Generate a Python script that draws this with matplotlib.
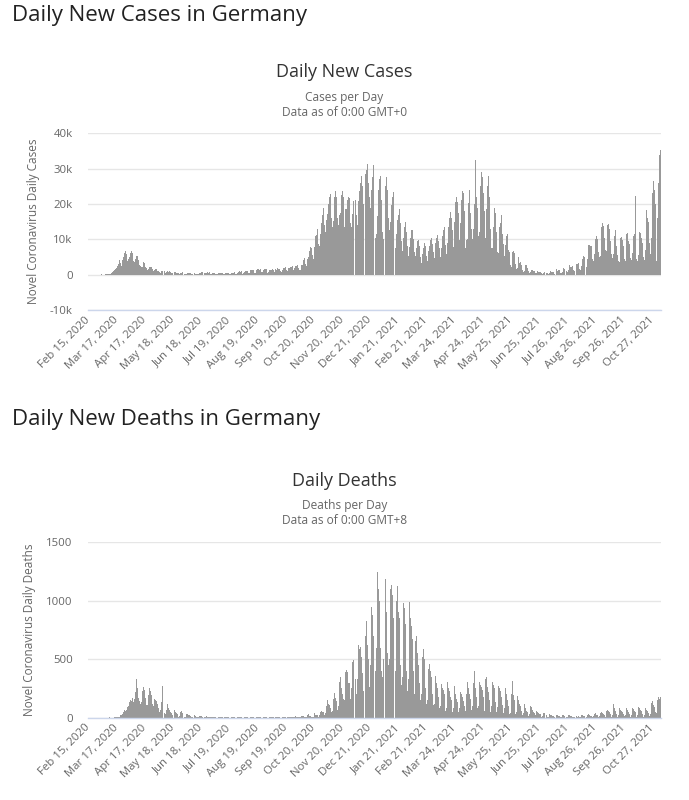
import matplotlib
matplotlib.use("Agg")
import matplotlib.pyplot as plt
from matplotlib.ticker import FixedLocator, FuncFormatter
import pandas as pd

plt.rcParams['font.family'] = ['Open Sans', 'DejaVu Sans']

# ---------------- data (daily, starting Sat Feb 15, 2020; one row = Sat..Fri) ----------------
start_date = "2020-02-15"

daily_cases = [
    0, 0, 0, 0, 0, 0, 0,
    0, 0, 0, 2, 10, 20, 30,
    50, 40, 60, 30, 30, 80, 190,
    150, 240, 130, 280, 480, 810, 870,
    910, 1210, 1480, 1840, 2400, 2960, 4200,
    3400, 2500, 4200, 4800, 4900, 6200, 6800,
    5900, 4000, 4400, 5000, 6100, 6600, 6200,
    6000, 3800, 3600, 4300, 5400, 5300, 4100,
    2700, 2500, 2100, 2100, 3000, 3600, 3400,
    2100, 1800, 1200, 1600, 2300, 2300, 2100,
    1500, 1000, 1000, 1300, 1600, 1500, 1000,
    900, 700, 600, 900, 1100, 1200, 1200,
    900, 600, 700, 900, 800, 900, 700,
    600, 500, 350, 600, 800, 700, 600,
    450, 400, 300, 350, 400, 700, 500,
    400, 300, 200, 300, 350, 500, 400,
    400, 300, 200, 300, 400, 500, 300,
    200, 250, 200, 350, 600, 750, 700,
    600, 550, 500, 500, 600, 630, 480,
    690, 300, 200, 400, 500, 450, 400,
    300, 250, 200, 400, 400, 450, 400,
    350, 250, 150, 300, 400, 550, 580,
    500, 250, 200, 450, 550, 570, 800,
    780, 300, 300, 600, 680, 900, 870,
    950, 250, 500, 880, 740, 1040, 1100,
    1100, 400, 440, 1220, 1230, 1450, 1440,
    1200, 600, 580, 1390, 1510, 1700, 1430,
    1600, 800, 800, 1280, 1500, 1570, 1500,
    1500, 600, 700, 1250, 1300, 1300, 1500,
    1400, 800, 800, 1500, 1200, 1800, 1500,
    1600, 1100, 700, 1400, 1900, 2200, 1900,
    2300, 1300, 900, 1800, 1800, 2100, 2200,
    2500, 1400, 1200, 1800, 2500, 2500, 2700,
    2000, 1400, 1400, 2600, 2800, 4100, 4500,
    4700, 3100, 2400, 4300, 5100, 6600, 7800,
    7600, 5500, 4300, 6900, 7800, 11000, 11300,
    13000, 8800, 8200, 11400, 14700, 16800, 18800,
    18100, 14100, 12000, 15600, 17200, 19900, 22000,
    22800, 16000, 13400, 15300, 18400, 22000, 23600,
    22000, 16000, 14000, 17000, 17500, 22600, 23600,
    22000, 15700, 13600, 18600, 18600, 21000, 22000,
    21600, 14600, 13600, 17300, 20800, 22500, 23300,
    21000, 17000, 14000, 20800, 23700, 26000, 28000,
    25000, 20000, 16400, 25000, 28500, 29500, 31200,
    26000, 22000, 19000, 24000, 27500, 31000, 22000,
    14500, 10500, 11500, 16500, 24000, 27000, 28000,
    21000, 12000, 10000, 15000, 21000, 25000, 27700,
    24000, 16000, 12500, 15000, 19600, 22000, 23300,
    18000, 12000, 7500, 11500, 15500, 17000, 18500,
    14500, 9500, 6800, 10500, 13500, 14500, 15000,
    12000, 8200, 5300, 7700, 10500, 12500, 12700,
    10000, 6300, 4200, 5300, 7600, 9500, 9800,
    8200, 5100, 3400, 5800, 7500, 9100, 9600,
    8200, 5400, 4000, 6800, 8100, 9900, 10500,
    8800, 6500, 4700, 7200, 9000, 10500, 11200,
    9500, 7500, 5000, 7500, 11000, 12600, 13400,
    12200, 8500, 5800, 9100, 13400, 16000, 17600,
    16000, 12600, 7700, 14900, 16000, 20700, 22000,
    20500, 17500, 9900, 14700, 21000, 23600, 23000,
    18000, 9700, 7500, 9700, 10000, 20400, 24000,
    17500, 13000, 10000, 13000, 20000, 29500, 32400,
    22000, 19000, 11000, 12000, 25000, 29000, 27500,
    23000, 18000, 9500, 10500, 18500, 25000, 27900,
    22000, 13000, 7500, 7500, 13500, 19000, 21000,
    17500, 12000, 6400, 6100, 13500, 14500, 17000,
    11500, 8700, 5400, 4200, 8500, 11000, 11400,
    7100, 6500, 2800, 2300, 6300, 6700, 6200,
    5000, 3100, 1500, 1800, 4900, 3200, 3600,
    2600, 1300, 800, 1100, 2800, 2600, 2700,
    1900, 1000, 500, 650, 1400, 1300, 1100,
    900, 540, 350, 350, 1000, 750, 770,
    640, 400, 250, 330, 800, 650, 530,
    570, 350, 200, 400, 970, 650, 750,
    700, 300, 300, 650, 1550, 1000, 1400,
    1200, 500, 500, 750, 1900, 1700, 1600,
    1500, 1000, 800, 1200, 2700, 2200, 2100,
    2400, 1200, 900, 1800, 3300, 3000, 3100,
    3200, 1600, 1200, 2500, 4500, 5200, 5000,
    5600, 2500, 2300, 4400, 8400, 8500, 8000,
    8000, 4500, 4000, 5800, 10000, 12600, 11000,
    10000, 6400, 5000, 5300, 13500, 14500, 13700,
    10500, 7000, 5500, 6700, 14000, 14200, 12800,
    9400, 5800, 4800, 5800, 11000, 12600, 11300,
    8000, 5700, 3800, 3600, 10500, 10700, 9700,
    8200, 4400, 3800, 5700, 11500, 11800, 9600,
    8600, 4700, 4200, 6200, 11000, 11500, 22300,
    8000, 4500, 4000, 5500, 12100, 11800, 10500,
    9000, 5000, 4100, 7000, 17500, 18300, 16000,
    15000, 9000, 5900, 10500, 23000, 26400, 24000,
    20000, 10000, 3900, 16000, 26000, 33900, 35400,
]

daily_deaths = [
    0, 0, 0, 0, 0, 0, 0,
    0, 0, 0, 0, 0, 0, 0,
    0, 0, 0, 0, 0, 0, 0,
    0, 0, 2, 0, 0, 0, 3,
    1, 2, 4, 4, 5, 8, 10,
    20, 23, 30, 33, 49, 62, 55,
    70, 90, 100, 130, 150, 140, 170,
    170, 130, 160, 220, 330, 250, 170,
    140, 120, 130, 230, 300, 260, 240,
    170, 110, 110, 190, 250, 230, 190,
    120, 90, 100, 160, 150, 140, 120,
    80, 50, 70, 130, 271, 120, 110,
    40, 30, 70, 120, 80, 70, 50,
    40, 20, 20, 80, 70, 45, 40,
    30, 10, 15, 50, 60, 40, 25,
    20, 10, 10, 30, 35, 25, 20,
    15, 5, 10, 20, 25, 20, 15,
    10, 5, 5, 15, 15, 12, 10,
    8, 3, 3, 10, 12, 8, 6,
    6, 2, 2, 8, 10, 8, 5,
    4, 1, 1, 6, 8, 5, 4,
    3, 1, 1, 5, 7, 4, 3,
    3, 1, 1, 4, 6, 4, 3,
    3, 1, 1, 5, 6, 4, 3,
    2, 1, 1, 5, 6, 4, 3,
    2, 1, 1, 6, 7, 4, 3,
    2, 1, 1, 5, 6, 4, 3,
    2, 1, 1, 5, 6, 4, 3,
    3, 1, 1, 6, 7, 5, 3,
    3, 1, 1, 6, 8, 5, 3,
    4, 1, 1, 7, 9, 6, 4,
    4, 1, 2, 8, 10, 7, 5,
    5, 2, 3, 10, 12, 9, 6,
    6, 3, 4, 13, 16, 11, 8,
    8, 4, 6, 20, 28, 15, 12,
    10, 5, 10, 30, 40, 25, 20,
    25, 10, 20, 50, 60, 50, 45,
    40, 25, 40, 100, 150, 120, 110,
    80, 50, 60, 160, 225, 210, 170,
    140, 70, 100, 305, 351, 250, 200,
    160, 90, 150, 390, 408, 390, 300,
    300, 160, 250, 480, 494, 450, 390,
    330, 200, 330, 622, 590, 608, 520,
    380, 230, 400, 760, 700, 828, 620,
    500, 260, 450, 945, 880, 700, 350,
    300, 400, 600, 1245, 1100, 1000, 600,
    400, 350, 500, 1207, 1100, 1185, 900,
    550, 450, 500, 1100, 1136, 1050, 850,
    500, 330, 400, 1000, 1130, 900, 850,
    450, 280, 350, 985, 940, 850, 800,
    400, 230, 330, 993, 850, 780, 670,
    400, 200, 250, 660, 700, 550, 450,
    300, 150, 200, 520, 585, 500, 400,
    250, 120, 150, 420, 458, 400, 350,
    200, 110, 120, 415, 360, 300, 250,
    180, 80, 100, 289, 250, 240, 200,
    160, 60, 80, 309, 250, 230, 180,
    150, 50, 80, 274, 250, 200, 160,
    130, 50, 80, 223, 200, 180, 140,
    100, 50, 60, 200, 303, 250, 200,
    160, 70, 100, 300, 400, 300, 250,
    180, 80, 100, 309, 280, 260, 240,
    180, 60, 100, 330, 346, 260, 220,
    150, 50, 100, 309, 280, 250, 200,
    130, 50, 90, 274, 250, 230, 180,
    110, 40, 80, 266, 250, 200, 150,
    100, 30, 40, 200, 314, 190, 150,
    80, 30, 50, 189, 150, 120, 100,
    60, 20, 40, 117, 100, 80, 60,
    50, 15, 30, 103, 90, 70, 50,
    40, 10, 20, 57, 50, 40, 35,
    30, 5, 15, 43, 40, 30, 25,
    20, 5, 10, 30, 25, 20, 15,
    15, 3, 8, 28, 25, 20, 15,
    12, 3, 8, 25, 22, 18, 12,
    10, 3, 8, 20, 25, 15, 12,
    10, 3, 8, 18, 22, 15, 10,
    12, 3, 8, 20, 25, 18, 12,
    12, 4, 10, 25, 30, 20, 15,
    15, 5, 12, 35, 40, 30, 20,
    20, 5, 15, 43, 50, 40, 30,
    25, 8, 20, 60, 65, 55, 45,
    30, 10, 25, 117, 80, 60, 50,
    30, 10, 25, 80, 70, 60, 50,
    35, 12, 25, 86, 80, 65, 50,
    30, 10, 20, 80, 75, 60, 50,
    30, 10, 25, 89, 80, 70, 55,
    30, 10, 25, 86, 80, 70, 60,
    40, 15, 35, 126, 143, 110, 90,
    50, 20, 40, 150, 174, 160, 180,
]

dates = pd.date_range(start_date, periods=len(daily_cases), freq="D")

tick_labels = [
    "Feb 15, 2020", "Mar 17, 2020", "Apr 17, 2020", "May 18, 2020", "Jun 18, 2020",
    "Jul 19, 2020", "Aug 19, 2020", "Sep 19, 2020", "Oct 20, 2020", "Nov 20, 2020",
    "Dec 21, 2020", "Jan 21, 2021", "Feb 21, 2021", "Mar 24, 2021", "Apr 24, 2021",
    "May 25, 2021", "Jun 25, 2021", "Jul 26, 2021", "Aug 26, 2021", "Sep 26, 2021",
    "Oct 27, 2021",
]
tick_pos = [dates.get_loc(pd.Timestamp(t)) for t in tick_labels]

cases_yticks = [-10000, 0, 10000, 20000, 30000, 40000]
deaths_yticks = [0, 500, 1000, 1500]

# ---------------- styling ----------------
W, H = 689, 800
BAR = "#999999"
GRID = "#e6e6e6"
AXIS = "#ccd6eb"
LBL = "#666666"

fig = plt.figure(figsize=(W / 100, H / 100), dpi=100)

def fy(p):
    return 1 - p / H

def kfmt(v, _):
    if v == 0:
        return "0"
    return f"{int(v/1000)}k"

def draw_panel(values, ax_top, ax_bot, yticks, ylabel, fmt):
    ax = fig.add_axes([88 / W, fy(ax_bot), (661 - 88) / W, (ax_bot - ax_top) / H])
    x = list(range(len(values)))
    ax.bar(x, values, width=0.97, color=BAR, linewidth=0)
    ax.set_xlim(-0.5, len(values) - 0.5)
    ax.set_ylim(yticks[0], yticks[-1])
    ax.yaxis.set_major_locator(FixedLocator(yticks))
    ax.yaxis.set_major_formatter(FuncFormatter(fmt))
    ax.grid(axis="y", color=GRID, linewidth=1)
    ax.set_axisbelow(True)
    for s in ["top", "right", "left"]:
        ax.spines[s].set_visible(False)
    ax.spines["bottom"].set_color(AXIS)
    ax.spines["bottom"].set_linewidth(1)
    ax.tick_params(axis="y", length=0, pad=11, labelsize=8.2, labelcolor=LBL)
    ax.tick_params(axis="x", length=0, pad=6, labelsize=8.2, labelcolor=LBL)
    ax.set_xticks(tick_pos)
    ax.set_xticklabels(tick_labels, rotation=45, ha="right", va="center",
                       rotation_mode="anchor")
    ax.set_ylabel(ylabel, fontsize=8.5, color=LBL, labelpad=7)
    return ax

# ---------------- cases ----------------
fig.text(12 / W, fy(15), "Daily New Cases in Germany", fontsize=16, color="#222222",
         ha="left", va="center")
fig.text(0.5, fy(72), "Daily New Cases", fontsize=13, color="#333333", ha="center", va="center")
fig.text(0.5, fy(98), "Cases per Day", fontsize=8.6, color=LBL, ha="center", va="center")
fig.text(0.5, fy(112), "Data as of 0:00 GMT+0", fontsize=8.6, color=LBL, ha="center", va="center")
draw_panel(daily_cases, 133.3, 310, cases_yticks, "Novel Coronavirus Daily Cases", kfmt)

# ---------------- deaths ----------------
fig.text(12 / W, fy(420), "Daily New Deaths in Germany", fontsize=16, color="#222222",
         ha="left", va="center")
fig.text(0.5, fy(481), "Daily Deaths", fontsize=13, color="#333333", ha="center", va="center")
fig.text(0.5, fy(506), "Deaths per Day", fontsize=8.6, color=LBL, ha="center", va="center")
fig.text(0.5, fy(520), "Data as of 0:00 GMT+8", fontsize=8.6, color=LBL, ha="center", va="center")
draw_panel(daily_deaths, 542.3, 717.7, deaths_yticks, "Novel Coronavirus Daily Deaths",
           lambda v, _: f"{int(v)}")

fig.savefig("out.png", dpi=100)
